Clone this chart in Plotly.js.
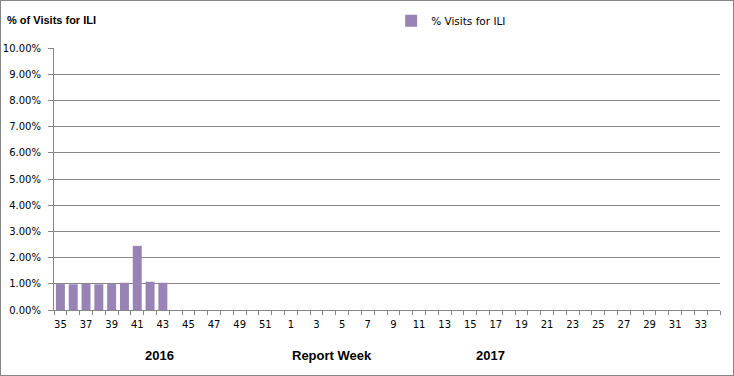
<!DOCTYPE html>
<html>
<head>
<meta charset="utf-8">
<script src="https://cdn.plot.ly/plotly-3.0.1.min.js"></script>
<style>
  html, body { margin: 0; padding: 0; background: #fff; }
  #chart { width: 734px; height: 376px; box-sizing: border-box; border: 1px solid #868686; }
</style>
</head>
<body>
<div id="chart"></div>
<script>
// Report weeks: 2016 weeks 35-52, then 2017 weeks 1-34
const weeks2016 = [35,36,37,38,39,40,41,42,43,44,45,46,47,48,49,50,51,52];
const weeks2017 = [1,2,3,4,5,6,7,8,9,10,11,12,13,14,15,16,17,18,19,20,21,22,23,24,25,26,27,28,29,30,31,32,33,34];
// % of visits for ILI (reported weeks 35-43 of 2016)
const iliValues = [0.0099, 0.0098, 0.0100, 0.0098, 0.0099, 0.0104, 0.0245, 0.0108, 0.0104];
const seriesName = "% Visits for ILI";
const yTickValues = [0,0.01,0.02,0.03,0.04,0.05,0.06,0.07,0.08,0.09,0.10];

const weeks = weeks2016.concat(weeks2017);
const xIdx = weeks.map((w, i) => i);
const yVals = weeks.map((w, i) => (i < iliValues.length ? iliValues[i] : null));
const labelIdx = xIdx.filter(i => weeks[i] % 2 === 1);
const labelText = labelIdx.map(i => String(weeks[i]));
const boundaryIdx = xIdx.map(i => i - 0.5).concat([weeks.length - 0.5]);
const xRange = [-0.5, weeks.length - 0.5];
const yRange = [0, 0.1];

const grey = '#868686';
const tickFont = { family: 'DejaVu Sans, Verdana, sans-serif', size: 10, color: '#000' };

const traces = [
  {
    type: 'bar', x: xIdx, y: yVals, name: seriesName,
    marker: { color: '#9783B6' }, width: 0.7, showlegend: true,
    hoverinfo: 'skip'
  },
  { type: 'scatter', x: [null], y: [null], xaxis: 'x2', yaxis: 'y', showlegend: false, hoverinfo: 'skip' },
  { type: 'scatter', x: [null], y: [null], xaxis: 'x', yaxis: 'y2', showlegend: false, hoverinfo: 'skip' }
];

const layout = {
  width: 732, height: 374,
  margin: { l: 53, r: 13, t: 47, b: 65 },
  paper_bgcolor: '#fff', plot_bgcolor: '#fff',
  title: {
    text: '<b>% of Visits for ILI</b>',
    font: { family: 'Liberation Sans, Arial, sans-serif', size: 11, color: '#000' },
    xref: 'container', yref: 'container',
    x: 0.0082, xanchor: 'left', y: 0.949, yanchor: 'middle'
  },
  showlegend: true,
  legend: {
    xref: 'container', yref: 'container',
    x: 0.533, xanchor: 'left', y: 0.947, yanchor: 'middle',
    orientation: 'h', bgcolor: 'rgba(0,0,0,0)',
    font: { family: 'DejaVu Sans, Verdana, sans-serif', size: 10.5, color: '#000' }
  },
  xaxis: {
    range: xRange, tickmode: 'array', tickvals: labelIdx, ticktext: labelText,
    ticks: 'outside', ticklen: 5, tickcolor: 'rgba(0,0,0,0)',
    showgrid: false, zeroline: false, showline: true, linecolor: grey, linewidth: 1,
    tickfont: tickFont, fixedrange: true
  },
  xaxis2: {
    overlaying: 'x', anchor: 'y', side: 'bottom', range: xRange,
    tickmode: 'array', tickvals: boundaryIdx, showticklabels: false,
    ticks: 'outside', ticklen: 4, tickcolor: grey, tickwidth: 1,
    showgrid: false, zeroline: false, showline: false, fixedrange: true
  },
  yaxis: {
    range: yRange, tickmode: 'array', tickvals: yTickValues, showticklabels: false,
    ticks: 'outside', ticklen: 5, tickcolor: grey,
    showgrid: true, gridcolor: grey, gridwidth: 1,
    zeroline: false, showline: true, linecolor: grey, linewidth: 1,
    fixedrange: true
  },
  yaxis2: {
    overlaying: 'y', anchor: 'x', side: 'left', range: yRange,
    tickmode: 'array', tickvals: yTickValues, tickformat: '.2%',
    ticks: 'outside', ticklen: 10, tickcolor: 'rgba(0,0,0,0)',
    showgrid: false, zeroline: false, showline: false,
    tickfont: tickFont, fixedrange: true
  },
  bargap: 0.3,
  annotations: [
    { text: '<b>2016</b>', xref: 'paper', yref: 'paper', x: 0.159, y: -0.172,
      xanchor: 'center', yanchor: 'middle', showarrow: false,
      font: { family: 'Liberation Sans, Arial, sans-serif', size: 13, color: '#000' } },
    { text: '<b>Report Week</b>', xref: 'paper', yref: 'paper', x: 0.417, y: -0.172,
      xanchor: 'center', yanchor: 'middle', showarrow: false,
      font: { family: 'Liberation Sans, Arial, sans-serif', size: 13, color: '#000' } },
    { text: '<b>2017</b>', xref: 'paper', yref: 'paper', x: 0.656, y: -0.172,
      xanchor: 'center', yanchor: 'middle', showarrow: false,
      font: { family: 'Liberation Sans, Arial, sans-serif', size: 13, color: '#000' } }
  ]
};

Plotly.newPlot('chart', traces, layout, { displayModeBar: false, staticPlot: true });
</script>
</body>
</html>
